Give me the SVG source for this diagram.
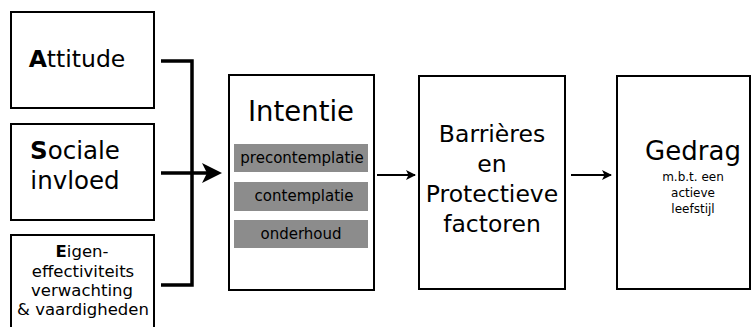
<svg xmlns="http://www.w3.org/2000/svg" width="752" height="327" viewBox="0 0 752 327">
<style>
.box{fill:#fff;stroke:#000;stroke-width:2}
.bar{fill:#8c8c8c}
text{font-family:"DejaVu Sans",Verdana,sans-serif;fill:#000;text-anchor:middle}
.thick{fill:none;stroke:#000;stroke-width:3.5}
.thin{fill:none;stroke:#000;stroke-width:2}
</style>
<defs>
<marker id="ah" viewBox="0 0 10 10" refX="9" refY="5" markerWidth="11" markerHeight="10" markerUnits="userSpaceOnUse" orient="auto">
<path d="M0,0 L10,5 L0,10 L2.5,5 Z" fill="#000"/>
</marker>
</defs>
<rect width="752" height="327" fill="#fff"/>
<g id="attitude">
<rect class="box" x="11" y="12" width="143" height="96"/>
<text x="77" y="67" font-size="23.5"><tspan font-weight="bold">A</tspan>ttitude</text>
</g>
<g id="sociale">
<rect class="box" x="11" y="124" width="143" height="96"/>
<text x="75" y="159" font-size="24.5"><tspan font-weight="bold">S</tspan>ociale</text>
<text x="75" y="189" font-size="24.5">invloed</text>
</g>
<g id="eigen">
<rect class="box" x="11" y="235" width="143" height="100"/>
<text x="82" y="257" font-size="16.5"><tspan font-weight="bold">E</tspan>igen-</text>
<text x="83" y="277" font-size="16.5">effectiviteits</text>
<text x="82" y="296" font-size="16.5">verwachting</text>
<text x="83" y="315" font-size="16.5">&amp; vaardigheden</text>
</g>
<g id="intentie">
<rect class="box" x="229" y="75" width="145" height="215"/>
<text x="301" y="121" font-size="27.5">Intentie</text>
<rect class="bar" x="234" y="144" width="134" height="28"/>
<rect class="bar" x="234" y="182" width="134" height="29"/>
<rect class="bar" x="234" y="220" width="134" height="28"/>
<text x="302" y="163" font-size="15" fill="#222">precontemplatie</text>
<text x="304" y="201" font-size="15" fill="#222">contemplatie</text>
<text x="301" y="239" font-size="15" fill="#222">onderhoud</text>
</g>
<g id="barrieres">
<rect class="box" x="419" y="76" width="146" height="213"/>
<text x="492" y="142" font-size="23.5">Barrières</text>
<text x="492" y="172" font-size="23.5">en</text>
<text x="492" y="202" font-size="23.5">Protectieve</text>
<text x="492" y="232" font-size="23.5">factoren</text>
</g>
<g id="gedrag">
<rect class="box" x="617" y="76" width="133" height="213"/>
<text x="693" y="160" font-size="26">Gedrag</text>
<text x="693" y="181" font-size="12" fill="#222">m.b.t. een</text>
<text x="693" y="197" font-size="12" fill="#222">actieve</text>
<text x="693" y="213" font-size="12" fill="#222">leefstijl</text>
</g>
<g id="connectors">
<path class="thick" d="M161,61 H192 V285 H161"/>
<path class="thick" d="M161,173 H208"/>
<path d="M222,173 L202,163 L207,173 L202,183 Z" fill="#000"/>
<path class="thin" d="M377,175 H415" marker-end="url(#ah)"/>
<path class="thin" d="M571,175 H611" marker-end="url(#ah)"/>
</g>
</svg>
